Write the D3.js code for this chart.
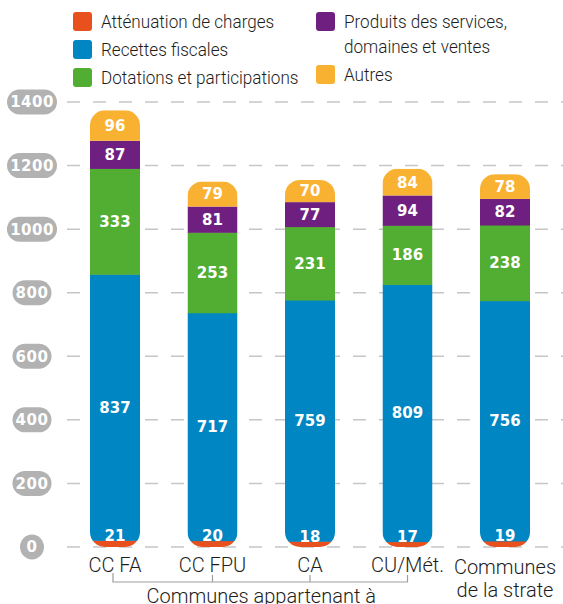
<!DOCTYPE html>
<html>
<head>
<meta charset="utf-8">
<script src="https://cdn.jsdelivr.net/npm/d3@7"></script>
<style>
  body { margin: 0; background: #fff; }
  svg { display: block; }
  .lbl { font-family: Roboto, sans-serif; font-weight: 300; fill: #1d1d1b; }
  .val { font-family: "DejaVu Sans", sans-serif; font-weight: bold; fill: #fff; }
</style>
</head>
<body>
<div id="chart"></div>
<script>
// categories and series
var categories = ["CC FA", "CC FPU", "CA", "CU/Mét.", "Communes|de la strate"];
var seriesNames = ["Atténuation de charges", "Recettes fiscales", "Dotations et participations",
  "Produits des services,|domaines et ventes", "Autres"];
var seriesColors = ["#e8501e", "#0087c3", "#52ae32", "#6f1f7f", "#f9b131"];

var attenuation = [21, 20, 18, 17, 19];
var recettes = [837, 717, 759, 809, 756];
var dotations = [333, 253, 231, 186, 238];
var produits = [87, 81, 77, 94, 82];
var autres = [96, 79, 70, 84, 78];

var yTicks = [0, 200, 400, 600, 800, 1000, 1200, 1400];
var groupLabel = "Communes appartenant à";

var width = 563, height = 604;
var x0 = 66;

var svg = d3.select("#chart").append("svg")
  .attr("width", width)
  .attr("height", height);

var y = d3.scaleLinear().domain([0, 1400]).range([547, 102]);
var x = d3.scaleBand().domain(categories).range([x0, 554]).paddingInner(0.487).paddingOuter(0.246);

var table = categories.map(function(c, i) {
  return { cat: c, Att: attenuation[i], Rec: recettes[i], Dot: dotations[i], Pro: produits[i], Aut: autres[i] };
});
var keys = ["Att", "Rec", "Dot", "Pro", "Aut"];
var stacked = d3.stack().keys(keys)(table);

// gridlines
var grid = svg.append("g");
grid.selectAll("line").data(yTicks).enter().append("line")
  .attr("x1", x0 + 1).attr("x2", width)
  .attr("y1", function(d) { return y(d); })
  .attr("y2", function(d) { return y(d); })
  .attr("stroke", "#c6c6c6")
  .attr("stroke-width", 1.5)
  .attr("stroke-dasharray", "13,13");

// tick pills
var ticks = svg.append("g");
yTicks.forEach(function(t) {
  var g = ticks.append("g").attr("transform", "translate(32," + y(t) + ")");
  var txt = String(t);
  var w = Math.max(txt.length * 11 + 6, 24);
  g.append("rect")
    .attr("x", -w / 2).attr("y", -12.5)
    .attr("width", w).attr("height", 25)
    .attr("rx", 12.5)
    .attr("fill", "#b2b2b2");
  g.append("text")
    .attr("class", "val")
    .attr("text-anchor", "middle")
    .attr("dy", "0.36em")
    .style("font-size", "15px")
    .style("letter-spacing", "0.5px")
    .text(txt);
});

// bars
var defs = svg.append("defs");
var bars = svg.append("g");
table.forEach(function(d, i) {
  var total = keys.reduce(function(s, k) { return s + d[k]; }, 0);
  defs.append("clipPath").attr("id", "clip" + i)
    .append("rect")
    .attr("x", x(d.cat)).attr("y", y(total))
    .attr("width", x.bandwidth()).attr("height", y(0) - y(total))
    .attr("rx", 15);
});

stacked.forEach(function(layer, li) {
  layer.forEach(function(s, i) {
    bars.append("rect")
      .attr("clip-path", "url(#clip" + i + ")")
      .attr("x", x(categories[i]))
      .attr("y", y(s[1]))
      .attr("width", x.bandwidth())
      .attr("height", y(s[0]) - y(s[1]) + (li < 4 ? 0.5 : 0))
      .attr("fill", seriesColors[li]);
  });
});

// value labels
stacked.forEach(function(layer, li) {
  layer.forEach(function(s, i) {
    var cy = li === 0 ? y(s[1]) - 5 : (y(s[0]) + y(s[1])) / 2;
    bars.append("text")
      .attr("class", "val")
      .attr("x", x(categories[i]) + x.bandwidth() / 2)
      .attr("y", cy)
      .attr("dy", "0.36em")
      .attr("text-anchor", "middle")
      .style("font-size", "15px")
      .text(s[1] - s[0]);
  });
});

// category labels
categories.forEach(function(c, i) {
  var lines = c.split("|");
  var t = svg.append("text")
    .attr("class", "lbl")
    .attr("text-anchor", "middle")
    .style("font-size", "20px");
  lines.forEach(function(l, j) {
    t.append("tspan")
      .attr("x", x(c) + x.bandwidth() / 2)
      .attr("y", (lines.length > 1 ? 574 : 572) + j * 23)
      .text(l);
  });
});

// bracket for the first four categories
var cx = function(i) { return x(categories[i]) + x.bandwidth() / 2; };
var br = svg.append("g").attr("stroke", "#9d9d9c").attr("stroke-width", 1.2).attr("fill", "none");
br.append("path").attr("d", "M" + (cx(0) - 2) + ",573V582H" + cx(3) + "V575");
[1, 2].forEach(function(i) {
  br.append("line").attr("x1", cx(i)).attr("x2", cx(i)).attr("y1", 575).attr("y2", 582);
});
svg.append("text")
  .attr("class", "lbl")
  .attr("x", (cx(0) + cx(3)) / 2)
  .attr("y", 603)
  .attr("text-anchor", "middle")
  .style("font-size", "20px")
  .text(groupLabel);

// legend
var legendPos = [[73, 21], [73, 49], [73, 77], [316, 21], [316, 74]];
var legend = svg.append("g");
seriesNames.forEach(function(n, i) {
  var p = legendPos[i];
  legend.append("rect")
    .attr("x", p[0]).attr("y", p[1] - 9)
    .attr("width", 19).attr("height", 19)
    .attr("rx", 3)
    .attr("fill", seriesColors[i]);
  var t = legend.append("text")
    .attr("class", "lbl")
    .attr("transform", "translate(" + (p[0] + 28) + "," + (p[1] + 7) + ") scale(0.9,1)")
    .style("font-size", "19px");
  n.split("|").forEach(function(l, j) {
    t.append("tspan")
      .attr("x", 0)
      .attr("y", j * 25)
      .text(l);
  });
});
</script>
</body>
</html>
